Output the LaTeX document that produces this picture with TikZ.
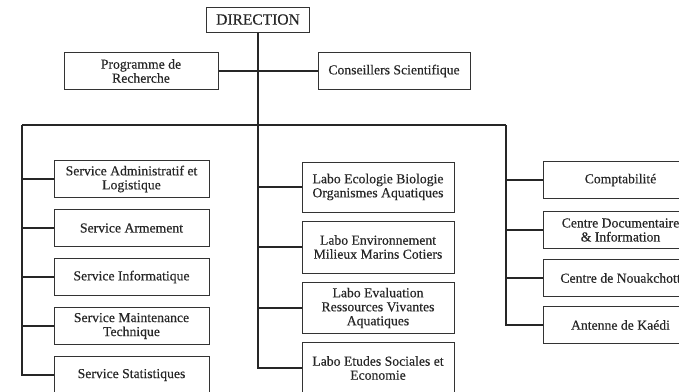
\documentclass[tikz,border=0pt]{standalone}
\usepackage{fontspec}
\setmainfont{Liberation Serif}[FakeBold=0.4]
\begin{document}
\begin{tikzpicture}[x=1pt,y=-1pt,
  txt/.style={font=\fontsize{13.7}{14}\selectfont, text=black!85},
  box/.style={draw=black!80, line width=1pt, align=center, inner sep=0pt, txt},
  lbox/.style={box, minimum width=155pt, minimum height=37pt},
  mbox/.style={box, minimum width=152pt, minimum height=51pt},
  link/.style={draw=black!85, line width=1.7pt}]
\useasboundingbox (0,0) rectangle (679,391);
\clip (0,0) rectangle (679,391);

% top level
\node[box, minimum width=103pt, minimum height=25pt, font=\fontsize{15.5}{17}\selectfont] (dir) at (258,19.5) {DIRECTION};
\node[box, minimum width=154pt, minimum height=37pt] (prog) at (141,71) {Programme de\\Recherche};
\node[box, minimum width=152pt, minimum height=37pt] (cons) at (394,71) {Conseillers Scientifique};

% services (left column)
\node[lbox] (l1) at (131.5,179) {Service Administratif et\\Logistique};
\node[lbox] (l2) at (131.5,228) {Service Armement};
\node[lbox] (l3) at (131.5,277) {Service Informatique};
\node[lbox] (l4) at (131.5,326) {Service Maintenance\\Technique};
\node[lbox] (l5) at (131.5,375) {Service Statistiques};

% laboratories (middle column)
\node[mbox, minimum height=50pt] (m1) at (378,187) {Labo Ecologie Biologie\\Organismes Aquatiques};
\node[mbox, minimum height=52pt] (m2) at (378,247) {Labo Environnement\\Milieux Marins Cotiers};
\node[mbox] (m3) at (378,308) {Labo Evaluation\\Ressources Vivantes\\Aquatiques};
\node[mbox] (m4) at (378,368) {Labo Etudes Sociales et\\Economie};

% other units (right column)
\node[lbox] (r1) at (620.5,180) {Comptabilité};
\node[lbox] (r2) at (620.5,230) {Centre Documentaire\\\& Information};
\node[lbox] (r3) at (620.5,278) {Centre de Nouakchott};
\node[lbox] (r4) at (620.5,325) {Antenne de Kaédi};

% bus
\coordinate (bm) at (258,125);
\coordinate (bl) at (22,125);
\coordinate (br) at (506,125);

\draw[link] (dir.south) -- (bm);
\draw[link] (prog.east) -- (cons.west);
\draw[link] (bl) -- (br);

\foreach \n in {l1,l2,l3,l4,l5} \draw[link] (bl) |- (\n.west);
\foreach \n in {m1,m2,m3,m4} \draw[link] (bm) |- (\n.west);
\foreach \n in {r1,r2,r3,r4} \draw[link] (br) |- (\n.west);
\end{tikzpicture}
\end{document}
